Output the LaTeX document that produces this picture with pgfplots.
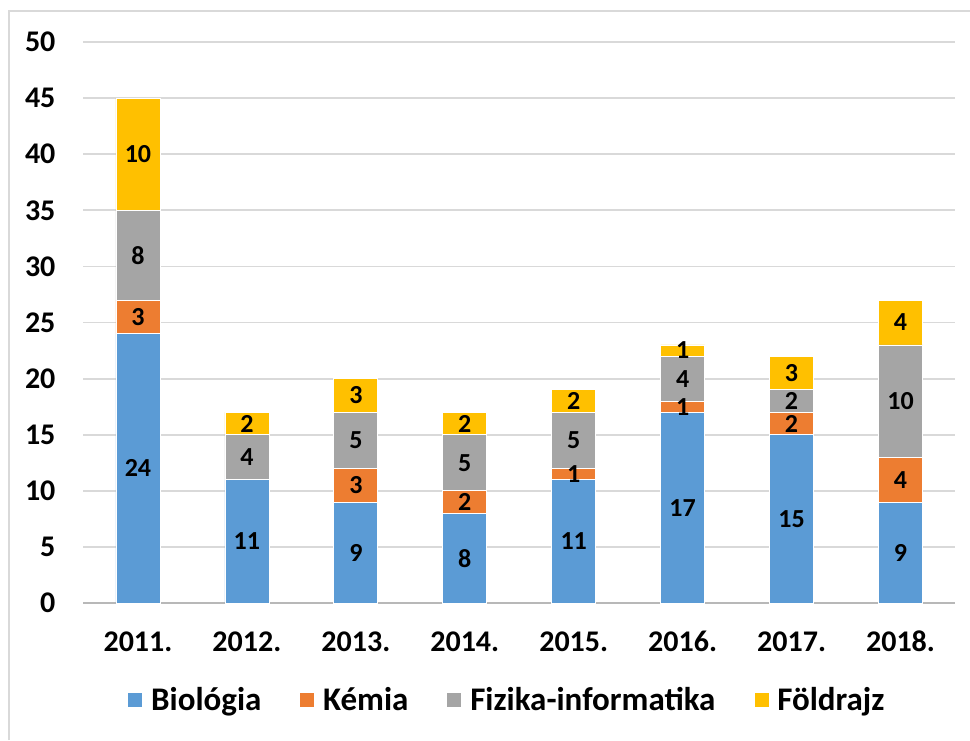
\documentclass[border=0pt]{standalone}
\usepackage{pgfplots}
\pgfplotsset{compat=1.18}
\usepackage{fontspec}
\setmainfont{Carlito}
\definecolor{cBio}{HTML}{5B9BD5}
\definecolor{cKem}{HTML}{ED7D31}
\definecolor{cFiz}{HTML}{A5A5A5}
\definecolor{cFold}{HTML}{FFC000}
\definecolor{cGrid}{HTML}{D9D9D9}
\begin{document}
\begin{tikzpicture}
\path[use as bounding box] (0,0) rectangle (485pt,370pt);
\draw[cGrid, line width=0.8pt] (4.5pt,0) -- (4.5pt,364.5pt) -- (486pt,364.5pt);
\pgfplotsset{
  base/.style={
    scale only axis, width=435.75pt, height=280.5pt,
    at={(41.75pt,68.5pt)}, anchor=south west,
    xmin=-0.5, xmax=7.5, ymin=0, ymax=50,
  }
}
\begin{axis}[base,
  ybar stacked, bar width=22pt,
  axis y line*=left, axis x line*=bottom,
  y axis line style={draw=none},
  x axis line style={draw=cGrid!85!black, line width=0.8pt, -},
  xtick={0,...,7}, xticklabels={2011.,2012.,2013.,2014.,2015.,2016.,2017.,2018.},
  major tick length=0pt,
  ytick={0,5,...,50},
  ymajorgrids, grid style={cGrid, line width=0.9pt},
  /pgf/number format/assume math mode=true,
  xticklabel style={font=\fontsize{15}{18}\selectfont\bfseries, anchor=base, yshift=-24pt},
  yticklabel style={font=\fontsize{15}{18}\selectfont\bfseries, xshift=-10.5pt},
  legend columns=4,
  legend style={draw=none, at={(0.487,-0.1729)}, anchor=center,
    font=\fontsize{16.5}{19}\selectfont\bfseries,
    /tikz/every even column/.append style={column sep=17pt},
    /tikz/every odd column/.append style={column sep=2pt}},
  legend image code/.code={\fill[#1] (0pt,-3.75pt) rectangle (7.5pt,3.75pt);},
]
\addplot[fill=cBio, draw=white, line width=0.4pt] coordinates {(0,24) (1,11) (2,9) (3,8) (4,11) (5,17) (6,15) (7,9)};
\addplot[fill=cKem, draw=white, line width=0.4pt] coordinates {(0,3) (1,0) (2,3) (3,2) (4,1) (5,1) (6,2) (7,4)};
\addplot[fill=cFiz, draw=white, line width=0.4pt] coordinates {(0,8) (1,4) (2,5) (3,5) (4,5) (5,4) (6,2) (7,10)};
\addplot[fill=cFold, draw=white, line width=0.4pt] coordinates {(0,10) (1,2) (2,3) (3,2) (4,2) (5,1) (6,3) (7,4)};
\legend{Biológia, Kémia, Fizika-informatika, Földrajz}
\end{axis}
\begin{axis}[base, hide axis]
\addplot[draw=none, mark=none, nodes near coords, point meta=explicit symbolic,
  every node near coord/.style={anchor=center, font=\fontsize{13}{15}\selectfont\bfseries, inner sep=0pt}]
  coordinates {
  (0,12) [24] (1,5.5) [11] (2,4.5) [9] (3,4) [8] (4,5.5) [11] (5,8.5) [17] (6,7.5) [15] (7,4.5) [9]
  (0,25.5) [3] (2,10.5) [3] (3,9) [2] (4,11.5) [1] (5,17.5) [1] (6,16) [2] (7,11) [4]
  (0,31) [8] (1,13) [4] (2,14.5) [5] (3,12.5) [5] (4,14.5) [5] (5,20) [4] (6,18) [2] (7,18) [10]
  (0,40) [10] (1,16) [2] (2,18.5) [3] (3,16) [2] (4,18) [2] (5,22.5) [1] (6,20.5) [3] (7,25) [4]
  };
\end{axis}
\end{tikzpicture}
\end{document}
